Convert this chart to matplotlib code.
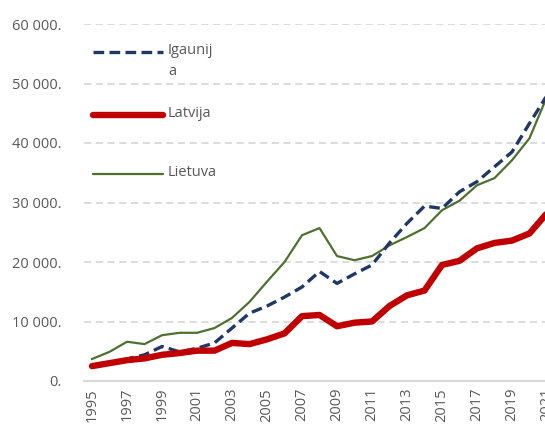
import matplotlib
matplotlib.use("Agg")
import matplotlib.pyplot as plt
from matplotlib.lines import Line2D

years = list(range(1995, 2022))
igaunija = [2600, 3000, 3700, 4400, 5800, 4900, 5500, 6400, 8900, 11400, 12600, 14100,
            15800, 18400, 16400, 18000, 19500, 23200, 26500, 29400, 29000, 31800, 33500,
            36000, 38500, 43300, 48000]
latvija = [2500, 3000, 3500, 3800, 4400, 4700, 5100, 5100, 6400, 6200, 7000, 8000,
           10900, 11100, 9200, 9800, 10000, 12600, 14400, 15200, 19500, 20200, 22300,
           23200, 23600, 24800, 28200]
lietuva = [3700, 4900, 6600, 6200, 7700, 8100, 8100, 8900, 10600, 13300, 16700, 20000,
           24500, 25700, 21000, 20300, 21000, 22800, 24200, 25700, 28700, 30300, 32900,
           34100, 37100, 40800, 47800]
labels = ["Igaunij\na", "Latvija", "Lietuva"]
yticks = [0, 10000, 20000, 30000, 40000, 50000, 60000]
ytick_labels = ["0.", "10 000.", "20 000.", "30 000.", "40 000.", "50 000.", "60 000."]
xticks = list(range(1995, 2022, 2))

plt.rcParams['font.family'] = ['Open Sans', 'DejaVu Sans']

W, H = 545, 429
fig = plt.figure(figsize=(W / 100, H / 100), dpi=100)
left, right, bottom, top = 84, 547, 381, 24
ax = fig.add_axes([left / W, (H - bottom) / H, (right - left) / W, (bottom - top) / H])

c_blue = "#203864"
c_red = "#C00000"
c_green = "#4E7130"

ax.plot(years, lietuva, color=c_green, lw=1.6, zorder=3)
ax.plot(years, igaunija, color=c_blue, lw=2.4, dashes=(3.2, 1.6), zorder=4)
ax.plot(years, latvija, color=c_red, lw=4.6, solid_capstyle='round', zorder=5)

ax.set_xlim(1995 - 8 / 17.45, 2021)
ax.set_ylim(0, 60000)
ax.set_yticks(yticks)
ax.set_yticklabels(ytick_labels)
ax.set_xticks(xticks)
ax.set_xticklabels([str(x) for x in xticks], rotation=90, va='top', ha='center')
ax.tick_params(axis='both', length=0, colors="#595959", labelsize=10.5)
ax.tick_params(axis='y', pad=16)
ax.tick_params(axis='x', pad=5)
ax.grid(axis='y', color="#D9D9D9", lw=1.3, linestyle=(0, (4, 2.5)))
for s in ['top', 'right', 'left']:
    ax.spines[s].set_visible(False)
ax.spines['bottom'].set_color("#D9D9D9")
ax.spines['bottom'].set_linewidth(1.5)
ax.set_axisbelow(True)

# manual legend
def px(x, y):
    return ((x - left) / (right - left), (bottom - y) / (bottom - top))

entries = [(labels[0], c_blue, 2.4, (3.2, 1.6), 52),
           (labels[1], c_red, 4.6, None, 115),
           (labels[2], c_green, 1.6, None, 174)]
for lab, col, lw, dash, yy in entries:
    x0, y0 = px(93, yy)
    x1, _ = px(163, yy)
    ln = Line2D([x0, x1], [y0, y0], transform=ax.transAxes, color=col, lw=lw,
                solid_capstyle='round', zorder=6)
    if dash:
        ln.set_dashes(dash)
    ax.add_line(ln)
    tx, ty = px(168, yy - 9)
    ax.text(tx, ty, lab, transform=ax.transAxes, va='top', ha='left', fontsize=10.5,
            color="#595959", linespacing=1.55)

fig.savefig("out.png", dpi=100)
